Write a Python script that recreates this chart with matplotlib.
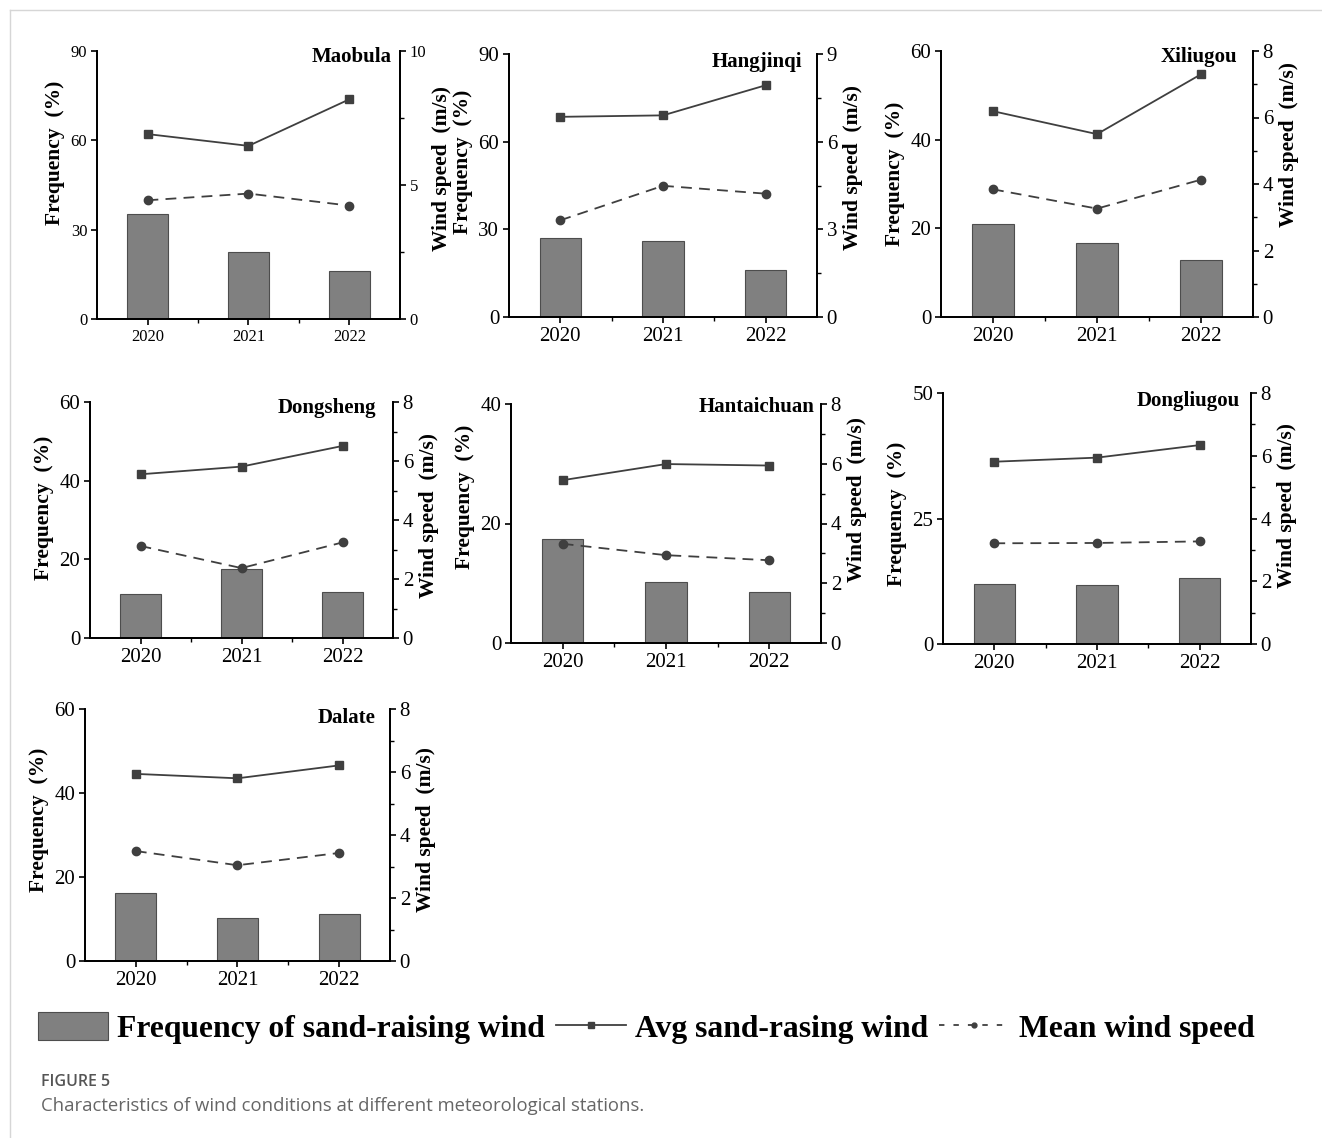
import numpy as np
import matplotlib
matplotlib.use("Agg")
import matplotlib.pyplot as plt
from matplotlib.patches import Patch
from matplotlib.lines import Line2D
from matplotlib.ticker import MultipleLocator

W, H = 1322, 1138
BAR_COLOR = "#808080"
BAR_EDGE = "#4d4d4d"
LINE_COLOR = "#3f3f3f"

years = ["2020", "2021", "2022"]
stations = ["Maobula", "Hangjinqi", "Xiliugou", "Dongsheng",
            "Hantaichuan", "Dongliugou", "Dalate"]

# frequency of sand-raising wind (%)
sand_freq = [
	[35.3, 22.5, 16.1],
	[26.9, 26.1, 16.1],
	[20.9, 16.8, 12.9],
	[11.2, 17.6, 11.7],
	[17.4, 10.2, 8.55],
	[12.0, 11.8, 13.2],
	[16.1, 10.3, 11.3],
]
# average sand-raising wind speed (m/s)
avg_sand_wind = [
	[6.90, 6.46, 8.20],
	[6.85, 6.90, 7.93],
	[6.19, 5.50, 7.30],
	[5.55, 5.81, 6.51],
	[5.45, 5.99, 5.94],
	[5.81, 5.94, 6.34],
	[5.94, 5.80, 6.21],
]
# mean wind speed (m/s)
mean_wind = [
	[4.43, 4.68, 4.23],
	[3.31, 4.49, 4.22],
	[3.84, 3.26, 4.13],
	[3.12, 2.37, 3.24],
	[3.32, 2.94, 2.77],
	[3.21, 3.22, 3.27],
	[3.49, 3.04, 3.43],
]
freq_max = [90, 90, 60, 60, 40, 50, 60]
freq_step = [30, 30, 20, 20, 20, 25, 20]
wind_max = [10, 9, 8, 8, 8, 8, 8]
wind_step = [5, 3, 2, 2, 2, 2, 2]

# axes boxes in pixels: left, top, right, bottom
BOXES = [
	(97, 51, 400, 319),
	(509, 54, 817, 317),
	(941, 51, 1253, 317),
	(90, 402, 393, 638),
	(511, 404, 821, 643),
	(943, 393, 1251, 644),
	(85, 709, 390, 961),
]
# station name offset from top-right corner (px)
NAME_OFFSETS = [(8, 6), (15, 8), (16, 6), (17, 6), (7, 3), (11, 8), (14, 9)]
# vertical centre of the axis titles (axes fraction): left, right
LABEL_Y = [(0.62, 0.56), (0.59, 0.57), (0.54, 0.65), (0.55, 0.52),
           (0.61, 0.60), (0.52, 0.55), (0.56, 0.52)]

plt.rcParams["font.family"] = ["Liberation Serif", "DejaVu Serif"]
plt.rcParams["axes.linewidth"] = 1.3


def px_axes(fig, box):
	l, t, r, b = box
	return fig.add_axes([l / W, 1 - b / H, (r - l) / W, (b - t) / H])


def draw_panel(ax, i, tick_size):
	x = np.arange(len(years))
	ax.bar(x, sand_freq[i], width=0.4, color=BAR_COLOR,
	       edgecolor=BAR_EDGE, linewidth=0.8, zorder=2)
	ax.set_xlim(-0.5, 2.5)
	ax.set_ylim(0, freq_max[i])
	ax.set_yticks(np.arange(0, freq_max[i] + 0.01, freq_step[i]))
	ax.set_xticks(x, years)
	ax.set_xticks([0.5, 1.5], minor=True)
	ax.spines["top"].set_visible(False)
	ax.tick_params(axis="both", which="major", direction="out", length=4,
	               width=1.2, labelsize=tick_size, pad=3)
	ax.tick_params(axis="x", which="minor", direction="out", length=3, width=1)
	ly, ry = LABEL_Y[i]
	ax.set_ylabel("Frequency  (%)", fontsize=15.5, fontweight="bold",
	              labelpad=4, y=ly)

	ax2 = ax.twinx()
	ax2.plot(x, avg_sand_wind[i], "-s", color=LINE_COLOR, lw=1.3, ms=5.5)
	ax2.plot(x, mean_wind[i], "--o", color=LINE_COLOR, lw=1.3, ms=6,
	         dashes=(6, 4))
	ax2.set_ylim(0, wind_max[i])
	ax2.set_yticks(np.arange(0, wind_max[i] + 0.01, wind_step[i]))
	ax2.yaxis.set_minor_locator(MultipleLocator(wind_step[i] / 2))
	ax2.spines["top"].set_visible(False)
	ax2.tick_params(axis="y", which="major", direction="out", length=4,
	                width=1.2, labelsize=tick_size, pad=3)
	ax2.tick_params(axis="y", which="minor", direction="out", length=3, width=1)
	ax2.set_ylabel("Wind speed  (m/s)", fontsize=15.5, fontweight="bold",
	               labelpad=4, y=ry)

	dx, dy = NAME_OFFSETS[i]
	ax2.annotate(stations[i], xy=(1, 1), xycoords="axes fraction",
	             xytext=(-dx * 0.72, -dy * 0.72), textcoords="offset points",
	             ha="right", va="center", fontsize=15, fontweight="bold")


fig = plt.figure(figsize=(W / 100, H / 100), dpi=100)

for i, box in enumerate(BOXES):
	ax = px_axes(fig, box)
	draw_panel(ax, i, 12 if i == 0 else 15)

handles = [
	Patch(facecolor=BAR_COLOR, edgecolor=BAR_EDGE, linewidth=0.8),
	Line2D([], [], color=LINE_COLOR, lw=1.3, marker="s", ms=4),
	Line2D([], [], color=LINE_COLOR, lw=1.3, ls="--", dashes=(3, 5),
	       marker="o", ms=3.5),
]
labels = ["Frequency of sand-raising wind", "Avg sand-rasing wind", "Mean wind speed"]
fig.legend(handles, labels, loc="center left", bbox_to_anchor=(38 / W, 1 - 1028 / H),
           ncol=3, frameon=False, borderpad=0, borderaxespad=0,
           handlelength=2.2, handleheight=1.0, handletextpad=0.3,
           columnspacing=0.35, prop={"size": 22.8, "weight": "bold"})

fig.text(41 / W, 1 - 1082 / H, "FIGURE 5", family="Open Sans", fontsize=11.5,
         fontweight="semibold", color="#555555", va="center", ha="left")
fig.text(41 / W, 1 - 1106 / H,
         "Characteristics of wind conditions at different meteorological stations.",
         family="Open Sans", fontsize=13.3, color="#666666", va="center", ha="left")

# light page frame
fig.add_artist(Line2D([10 / W, 10 / W], [0, 1 - 10 / H], transform=fig.transFigure,
                      color="#d6d6d6", lw=1))
fig.add_artist(Line2D([10 / W, 1], [1 - 10 / H, 1 - 10 / H], transform=fig.transFigure,
                      color="#d6d6d6", lw=1))

fig.savefig("out.png", dpi=100)
